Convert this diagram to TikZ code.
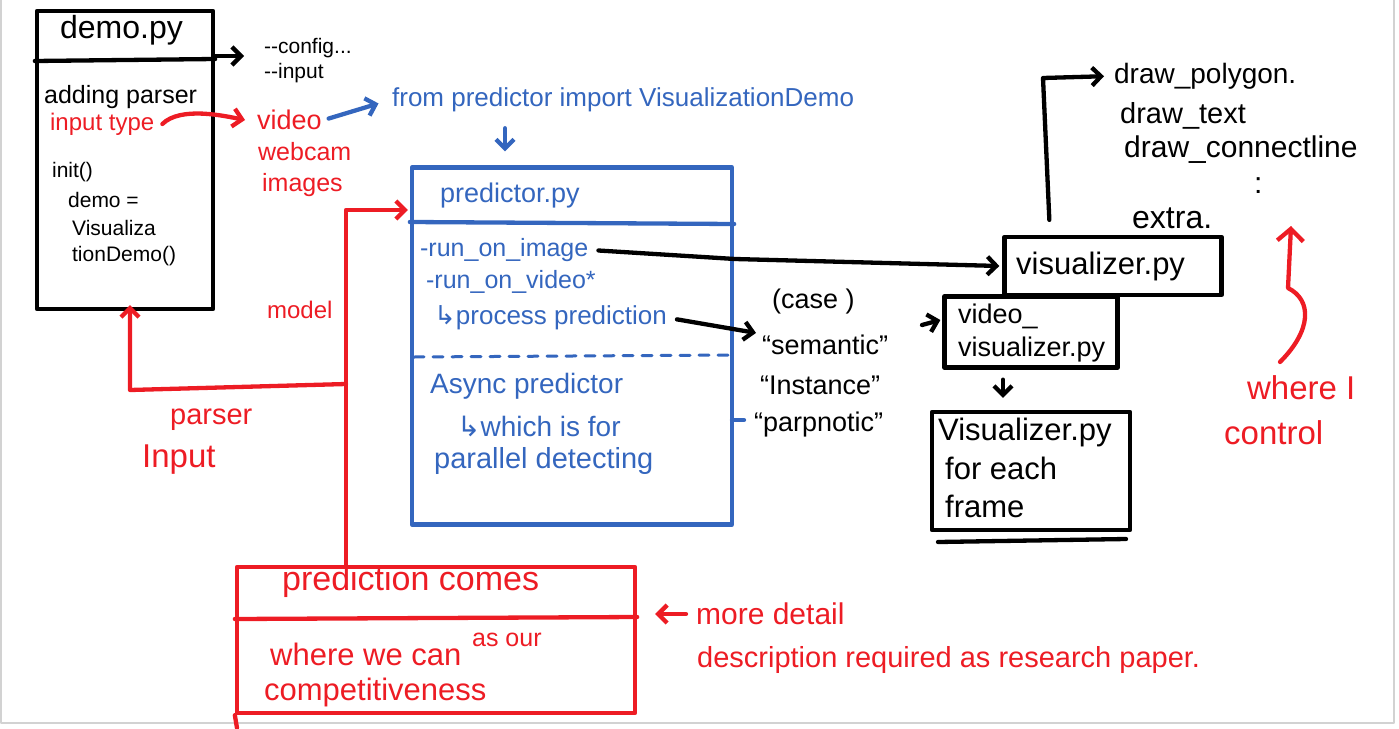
\documentclass[tikz,border=0pt]{standalone}
\usepackage{fontspec}
\setmainfont{Liberation Sans}
\newfontfamily\symfont{DejaVu Sans}
\usetikzlibrary{arrows.meta}
\definecolor{pblue}{RGB}{52,102,190}
\definecolor{pred}{RGB}{237,28,36}
\newcommand\fsz[1]{\fontsize{#1}{#1}\selectfont}
\begin{document}
\begin{tikzpicture}[x=1pt,y=-1pt, line width=4.3pt, line cap=round, line join=round,
  lbl/.style={inner sep=0pt, anchor=west},
  boxk/.style={draw=black, inner sep=0pt},
  boxb/.style={draw=pblue, inner sep=0pt},
  boxr/.style={draw=pred, inner sep=0pt},
  arr/.style={-{Straight Barb[length=9pt,width=18pt]}},
  blu/.style={text=pblue},
  rd/.style={text=pred}]
\useasboundingbox (0,0) rectangle (1399,728);
\draw[gray!35, line width=1.5pt] (1,0) -- (1,723) -- (1394,723) -- (1394,0);

% ---------- demo.py ----------
\node[boxk, minimum width=176, minimum height=298] (demo) at (125,160) {};
\draw (demo.west |- 0,61) -- (demo.east |- 0,59);
\node[lbl, font=\fsz{32}] (demotitle) at (58,30) {demo.py};
\node[lbl, font=\fsz{25}] (addp) at (42,97) {adding parser};
\node[lbl, rd, font=\fsz{24}] (itype) at (48,124) {input type};
\node[lbl, font=\fsz{21}] (init) at (50,172) {init()};
\node[lbl, font=\fsz{21}] (demoeq) at (66,200) {demo =};
\node[lbl, font=\fsz{21}] (vis1) at (70,228) {Visualiza};
\node[lbl, font=\fsz{21}] (vis2) at (70,256) {tionDemo()};

\node[lbl, font=\fsz{21}, align=left] (cfg) at (262,61) {{-}{-}config...\\[4pt]{-}{-}input};
\draw[arr, shorten >=18pt] (demo.east |- 0,56) -- (cfg.west |- 0,56);

% ---------- input types ----------
\node[lbl, rd, font=\fsz{27}] (vid) at (255,120) {video};
\node[lbl, rd, font=\fsz{25}] (web) at (256,152) {webcam};
\node[lbl, rd, font=\fsz{25}] (img) at (260,185) {images};
\draw[arr, pred] ([xshift=6pt]itype.east) .. controls +(18,-18) and +(-20,-4) .. ([xshift=-10pt]vid.west);

% ---------- import ----------
\node[lbl, blu, font=\fsz{26}] (imp) at (390,100) {from predictor import VisualizationDemo};
\draw[arr, pblue, shorten <=5pt, shorten >=12pt] (vid.east) -- (imp.west);

% ---------- predictor.py ----------
\node[boxb, minimum width=320, minimum height=357] (predbox) at (572,346) {};
\draw[pblue] (predbox.west |- 0,222) -- (predbox.east |- 0,224);
\draw[pblue, line width=3pt, dash pattern=on 10pt off 9pt] (414,357) -- (730,355);
\draw[pblue] (732,420) -- (744,420);
\draw[arr, pblue, shorten <=14pt, shorten >=14pt] (imp.south -| 505,0) -- (predbox.north -| 505,0);
\node[lbl, blu, font=\fsz{27}] (ptitle) at (438,196) {predictor.py};
\node[lbl, blu, font=\fsz{25}] (roi) at (418,250) {-run\_on\_image};
\node[lbl, blu, font=\fsz{25}] (rov) at (424,282) {-run\_on\_video*};
\node[lbl, blu, font=\fsz{26}] (pp) at (432,318) {{\symfont ↳}process prediction};
\node[lbl, blu, font=\fsz{28}] (async) at (428,386) {Async predictor};
\node[lbl, blu, font=\fsz{28}] (which) at (455,426) {{\symfont ↳}which is for};
\node[lbl, blu, font=\fsz{29}] (par) at (432,461) {parallel detecting};

% ---------- cases ----------
\node[lbl, font=\fsz{27}] (case) at (770,302) {(case )};
\node[lbl, font=\fsz{27}] (sem) at (760,345) {“semantic”};
\node[lbl, font=\fsz{27}] (inst) at (758,385) {“Instance”};
\node[lbl, font=\fsz{27}] (pan) at (752,425) {“parpnotic”};
\draw[arr, shorten <=8pt] (pp.east) -- ([xshift=-4pt]sem.north west);

% ---------- visualizer.py ----------
\node[boxk, minimum width=217, minimum height=58] (vis) at (1113,266) {};
\node[lbl, font=\fsz{31}] (vistext) at (1014,266) {visualizer.py};
\draw[arr, shorten <=8pt] (roi.east) -- (735,259) -- ([xshift=-3pt]vis.west);

% ---------- video_visualizer ----------
\node[boxk, minimum width=173, minimum height=71] (vv) at (1031,332) {};
\node[lbl, font=\fsz{27}] (vv1) at (956,316) {video\_};
\node[lbl, font=\fsz{27}] (vv2) at (956,350) {visualizer.py};
\coordinate (vvin) at (922,325);
\draw[arr] (vvin) -- ([xshift=-2pt]vv.west |- 0,320);

% ---------- Visualizer for each frame ----------
\node[boxk, minimum width=198, minimum height=118] (vf) at (1031,471) {};
\draw (938,542) -- (1126,539);
\node[lbl, font=\fsz{31}] (vf1) at (936,432) {Visualizer.py};
\node[lbl, font=\fsz{31}] (vf2) at (943,468) {for each};
\node[lbl, font=\fsz{31}] (vf3) at (943,506) {frame};
\draw[arr, shorten <=10pt, shorten >=12pt] (vv.south -| 1003,0) -- (vf.north -| 1003,0);

% ---------- draw functions ----------
\node[lbl, font=\fsz{28}] (dpoly) at (1112,76) {draw\_polygon.};
\node[lbl, font=\fsz{29}] (dtext) at (1118,116) {draw\_text};
\node[lbl, font=\fsz{30}] (dconn) at (1122,150) {draw\_connectline};
\node[lbl, font=\fsz{30}] (dots) at (1252,186) {:};
\node[lbl, font=\fsz{32}] (extra) at (1130,218) {extra.};
\draw[arr, shorten <=15pt, shorten >=8pt] (vis.north -| 1050,0) -- (1043,78) -- (dpoly.west);

% ---------- where I control ----------
\node[lbl, rd, font=\fsz{33}] (where) at (1245,388) {where I};
\node[lbl, rd, font=\fsz{33}] (ctrl) at (1222,433) {control};
\draw[pred, -{Straight Barb[length=12pt,width=26pt]}] (1280,362) .. controls (1312,330) and (1312,300) .. (1288,288) -- (1291,226);

% ---------- prediction comes ----------
\node[boxr, minimum width=398, minimum height=146] (pc) at (436,640) {};
\draw[pred] (pc.south west) -- (237,728);
\draw[pred] (pc.west |- 0,619) -- (pc.east |- 0,617);
\node[lbl, rd, font=\fsz{34}] (pctitle) at (280,582) {prediction comes};
\node[lbl, rd, font=\fsz{31}] (wwc) at (268,654) {where we can};
\node[lbl, rd, font=\fsz{25}] (asour) at (470,640) {as our};
\node[lbl, rd, font=\fsz{31}] (comp) at (262,692) {competitiveness};

\node[lbl, rd, font=\fsz{30}] (more) at (694,614) {more detail};
\node[lbl, rd, font=\fsz{29}] (desc) at (695,660) {description required as research paper.};
\draw[arr, pred, shorten <=8pt, shorten >=18pt] (more.west) -- (pc.east |- more.west);

% ---------- model / parser input ----------
\node[lbl, rd, font=\fsz{24}] (model) at (265,310) {model};
\node[lbl, rd, font=\fsz{29}] (parser) at (168,420) {parser};
\node[lbl, rd, font=\fsz{33}] (input) at (140,460) {Input};
\coordinate (m1) at (346,384);
\draw[arr, pred] (pc.north -| 346,0) -- (346,210) -- ([xshift=-2pt]predbox.west |- 0,210);
\draw[arr, pred] (m1) -- (130,390) -- ([yshift=6pt]demo.south -| 130,0);
\end{tikzpicture}
\end{document}
